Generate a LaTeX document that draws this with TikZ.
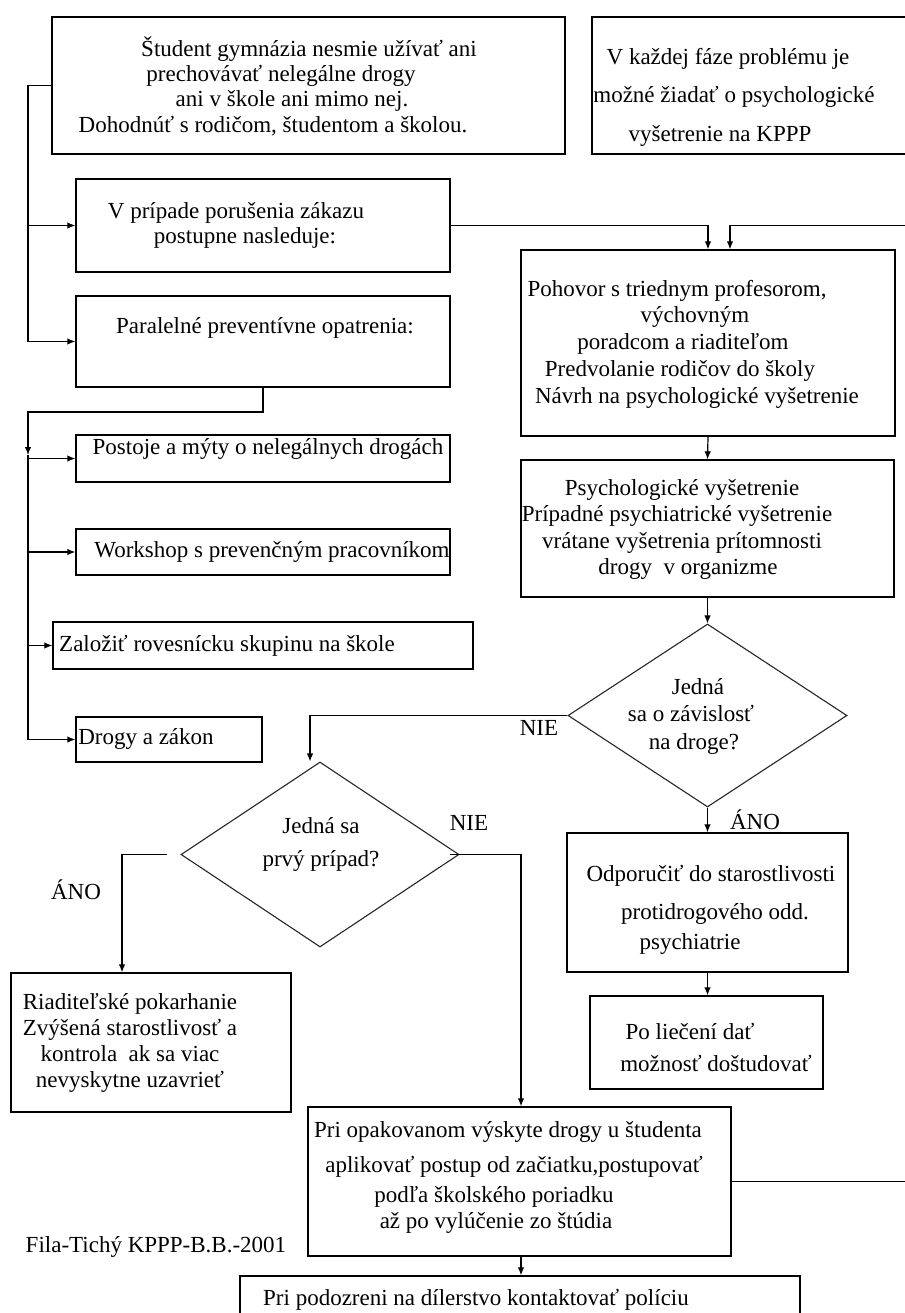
\documentclass[tikz,border=0pt]{standalone}
\usepackage{fontspec}
\setmainfont{Liberation Serif}
\usetikzlibrary{arrows.meta,shapes.geometric}
\newcommand{\padd}[1]{\rule{#1}{0pt}}
\begin{document}
\begin{tikzpicture}[x=1pt,y=-1pt,
  box/.style={draw=black, line width=1.3pt, inner sep=0pt},
  dia/.style={draw=black!85, line width=1.1pt, diamond, inner sep=0pt},
  txt/.style={inner sep=0pt, align=center, font=\fontsize{23}{#1}\selectfont},
  txt/.default=26,
  arr/.style={line width=1.2pt, -{Latex[length=8pt,width=6.5pt]}},
  ln/.style={line width=1.2pt}]
\useasboundingbox[fill=white] (0,0) rectangle (904,1313);

% ---- boxes ----
\node[box, minimum width=513pt, minimum height=137pt] (A) at (308.5,85.5) {};
\node[box, minimum width=320pt, minimum height=137pt] (B) at (752,85.5) {};
\node[box, minimum width=374pt, minimum height=93pt] (C) at (263,225.5) {};
\node[box, minimum width=374pt, minimum height=91pt] (D) at (263,341.5) {};
\node[box, minimum width=374pt, minimum height=47pt] (Po) at (263,458.5) {};
\node[box, minimum width=374pt, minimum height=46pt] (Wo) at (263,552) {};
\node[box, minimum width=420pt, minimum height=47pt] (Za) at (263,645.5) {};
\node[box, minimum width=186pt, minimum height=45pt] (Dr) at (169,739.5) {};
\node[box, minimum width=374pt, minimum height=186pt] (E) at (708,343) {};
\node[box, minimum width=373pt, minimum height=137pt] (F) at (707.5,528.5) {};
\node[dia, minimum width=279pt, minimum height=183pt] (D1) at (707.5,715.5) {};
\node[dia, minimum width=278pt, minimum height=185pt] (D2) at (320,854.5) {};
\node[box, minimum width=281pt, minimum height=139pt] (H) at (707.5,902.5) {};
\node[box, minimum width=233pt, minimum height=93pt] (J) at (706.5,1042.5) {};
\node[box, minimum width=280pt, minimum height=139pt] (G) at (151,1042.5) {};
\node[box, minimum width=423pt, minimum height=149pt] (I) at (519.5,1181.5) {};
\node[box, minimum width=560pt, minimum height=54pt] (K) at (520,1303) {};

% ---- texts ----
\node[txt=25.3] (At) at (292,86) {\padd{34pt}Študent gymnázia nesmie užívať ani\\
  prechovávať nelegálne drogy\padd{22pt}\\
  ani v škole ani mimo nej.\\
  Dohodnúť s rodičom, študentom a školou.\padd{38pt}};
\node[txt=38.5] (Bt) at (728,97) {V každej fáze problému je\\
  \padd{12pt}možné žiadať o psychologické\\
  vyšetrenie na KPPP\padd{16pt}};
\node[txt=25] (Ct) at (240,225.5) {V prípade porušenia zákazu\padd{8pt}\\
  \padd{10pt}postupne nasleduje:};
\node[txt] (Dt) at (265,328) {Paralelné preventívne opatrenia:};
\node[txt] (Pot) at (268,449) {Postoje a mýty o nelegálnych drogách};
\node[txt] (Wot) at (272,552) {Workshop s prevenčným pracovníkom};
\node[txt] (Zat) at (227,646) {Založiť rovesnícku skupinu na škole};
\node[txt] (Drt) at (146,739) {Drogy a zákon};
\node[txt=26.75] (Et) at (686,344) {Pohovor s triednym profesorom,\padd{18pt}\\
  \padd{18pt}výchovným\\
  poradcom a riaditeľom\padd{6pt}\\
  Predvolanie rodičov do školy\padd{12pt}\\
  \padd{22pt}Návrh na psychologické vyšetrenie};
\node[txt=26.3] (Ft) at (682,529.5) {Psychologické vyšetrenie\\
  Prípadné psychiatrické vyšetrenie\padd{10pt}\\
  vrátane vyšetrenia prítomnosti\\
  \padd{12pt}drogy\ \ v organizme};
\node[txt=27.5] (D1t) at (694,716) {\padd{8pt}Jedná\\
  sa o závislosť\padd{6pt}\\
  na droge?};
\node[txt=33] (D2t) at (321,844) {Jedná sa\\ prvý prípad?};
\node[txt] (nie1) at (539,728) {NIE};
\node[txt] (nie2) at (469,823) {NIE};
\node[txt] (ano1) at (76,890) {ÁNO};
\node[txt] (ano2) at (755,820) {ÁNO};
\node[txt=30] (Ht) at (708,910) {\padd{6pt}Odporučiť do starostlivosti\\[8pt]
  \padd{14pt}protidrogového odd.\\
  psychiatrie\padd{36pt}};
\node[txt=32] (Jt) at (703,1047.5) {Po liečení dať\padd{26pt}\\
  \padd{26pt}možnosť doštudovať};
\node[txt=26.3] (Gt) at (130,1043) {Riaditeľské pokarhanie\\
  Zvýšená starostlivosť a\\
  kontrola\ \ ak sa viac\\
  nevyskytne uzavrieť};
\node[txt=26] (It) at (503,1177.5) {\padd{10pt}Pri opakovanom výskyte drogy u študenta\\[9pt]
  \padd{22pt}aplikovať postup od začiatku,postupovať\\[4pt]
  podľa školského poriadku\padd{18pt}\\
  až po vylúčenie zo štúdia\padd{14pt}};
\node[txt] (Kt) at (476,1300) {Pri podozreni na dílerstvo kontaktovať políciu};
\node[txt] (foot) at (156,1247) {Fila-Tichý KPPP-B.B.-2001};

% ---- connectors ----
\coordinate (lb) at (28,85.5);
\draw[ln] (A.west) -- (lb);
\draw[arr] (lb) |- (D.west);
\draw[arr] (lb |- C.west) -- (C.west);

\coordinate (lc) at (28,412);
\coordinate (ld) at (28,455);
\draw[arr] (D.south) |- (lc) -- (ld);
\draw[arr] (ld) |- (Dr.west);
\draw[arr] (ld |- Po.west) -- (Po.west);
\draw[arr] (ld |- Wo.west) -- (Wo.west);
\draw[arr] (ld |- Za.west) -- (Za.west);

\draw[arr] (C.east) -| (E.north);
\coordinate (rr) at (912,225.5);
\draw[arr] (I.east) -| (rr) -| ([xshift=22pt]E.north);

\draw[arr] (E.south) -- (F.north);
\draw[arr] (F.south) -- (D1.north);
\draw[arr] (D1.west) -| ([xshift=-10pt]D2.north);
\draw[arr] (D1.south) -- (H.north);
\draw[arr] (H.south) -- (H.south |- J.north);
\draw[arr] ([xshift=-13pt]D2.west) -| ([xshift=-29pt]G.north);
\draw[arr] ([xshift=-10pt]D2.east) -| ([xshift=1.5pt]I.north);
\draw[arr] ([xshift=1.5pt]I.south) -- ([xshift=1pt]K.north);
\end{tikzpicture}
\end{document}
